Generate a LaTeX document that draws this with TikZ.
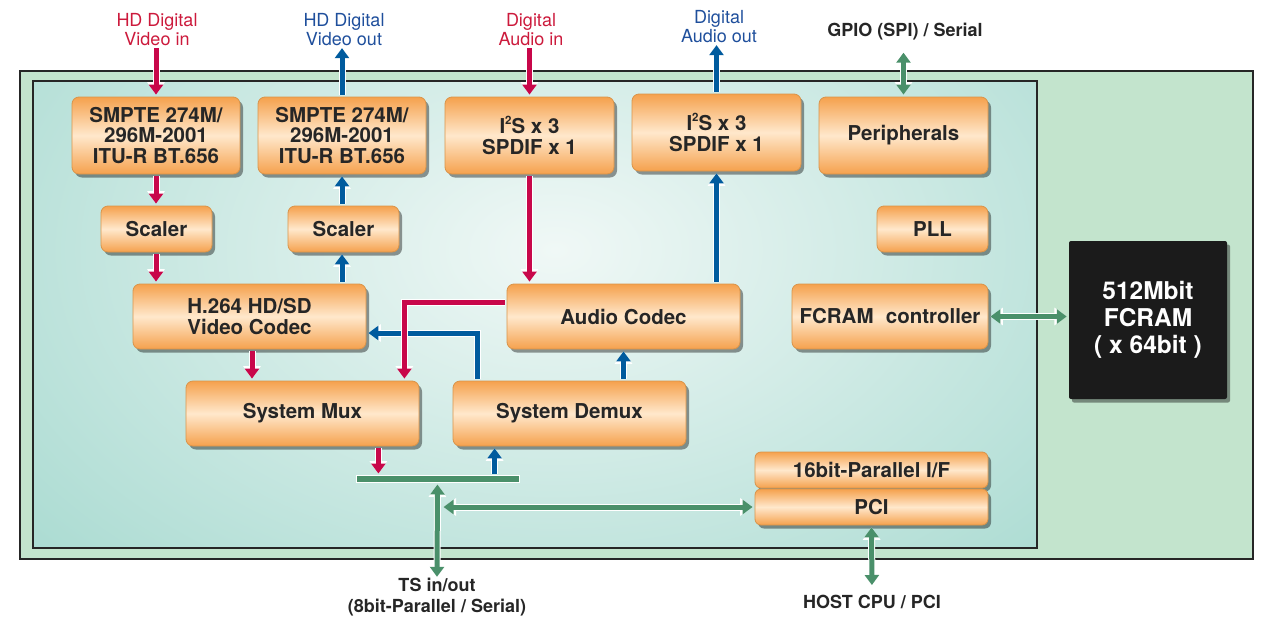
\documentclass[tikz,border=0pt]{standalone}
\usepackage{fontspec}
\setmainfont{TeX Gyre Heros}
\usetikzlibrary{arrows.meta,shadows,calc}
\definecolor{cred}{HTML}{C8074A}
\definecolor{credtext}{HTML}{CC1A3C}
\definecolor{cblue}{HTML}{005B9E}
\definecolor{cbluetext}{HTML}{1F4F9C}
\definecolor{cgreen}{HTML}{4A906A}
\definecolor{outerfill}{HTML}{C3E4CD}
\definecolor{tealedge}{HTML}{92D1C5}
\definecolor{tealcenter}{HTML}{F0F8F6}
\definecolor{ordark}{HTML}{F5A14D}
\definecolor{orlight}{HTML}{FFE8CC}
\definecolor{orborder}{HTML}{D9944A}
\definecolor{chipfill}{HTML}{1B1B1B}
\definecolor{framecol}{HTML}{262626}
\newcommand\mysup[1]{\raisebox{0.42em}{\fontsize{11.5}{11.5}\selectfont #1}}
\begin{document}
\begin{tikzpicture}[x=1pt,y=-1pt,
  blk/.style={rectangle, rounded corners=7pt, draw=orborder, line width=0.8pt,
    top color=ordark, bottom color=ordark, middle color=orlight,
    drop shadow={shadow xshift=3pt, shadow yshift=-3.5pt, fill=black, opacity=0.4},
    font=\fontsize{20.5}{20.5}\selectfont\bfseries, text=black!85, align=center, inner sep=0pt},
  toplab/.style={font=\fontsize{18}{19.5}\selectfont, align=center, inner sep=0pt},
  botlab/.style={font=\fontsize{18}{21}\selectfont\bfseries, text=black!85, align=center, inner sep=0pt},
  arr/.style={line width=5pt, -{Triangle[width=14pt,length=10pt]}, shorten <=2pt, shorten >=2pt,
    preaction={draw=white, line width=7pt, -{Triangle[width=17pt,length=12.5pt]}}},
  rarr/.style={arr, draw=cred},
  barr/.style={arr, draw=cblue},
  garr/.style={line width=5pt, draw=cgreen, {Triangle[width=14pt,length=10pt]}-{Triangle[width=14pt,length=10pt]}, shorten <=2pt, shorten >=2pt,
    preaction={draw=white, line width=7pt, {Triangle[width=17pt,length=12.5pt]}-{Triangle[width=17pt,length=12.5pt]}}}
]
\useasboundingbox (0,0) rectangle (1262,619);
% frames
\fill[outerfill] (20,71) rectangle (1253,559);
\draw[framecol, line width=2pt] (20,71) rectangle (1253,559);
\fill[tealedge] (33,81) rectangle (1037,548);
\begin{scope}
  \clip (33,81) rectangle (1037,548);
  \shade[inner color=tealcenter, outer color=tealedge] (555,250) ellipse (950 and 620);
\end{scope}
\draw[framecol, line width=2pt] (33,81) rectangle (1037,548);

% blocks
\node[blk, minimum width=168pt, minimum height=77pt] (smpte1) at (156,135.5) {SMPTE 274M/\\296M-2001\\ITU-R BT.656};
\node[blk, minimum width=168pt, minimum height=77pt] (smpte2) at (342,135.5) {SMPTE 274M/\\296M-2001\\ITU-R BT.656};
\node[blk, minimum width=169pt, minimum height=77pt] (i2s1) at (529.5,135.5) {I\mysup{2}S x 3\\SPDIF x 1};
\node[blk, minimum width=169pt, minimum height=77pt] (i2s2) at (716.5,132.5) {I\mysup{2}S x 3\\SPDIF x 1};
\node[blk, minimum width=169pt, minimum height=77pt] (periph) at (903.5,135.5) {Peripherals};
\node[blk, minimum width=111pt, minimum height=46pt] (scaler1) at (156.5,229) {Scaler};
\node[blk, minimum width=111pt, minimum height=46pt] (scaler2) at (343.5,229) {Scaler};
\node[blk, minimum width=111pt, minimum height=46pt] (pll) at (932.5,229) {PLL};
\node[blk, minimum width=233pt, minimum height=65pt] (h264) at (249.5,316.5) {H.264 HD/SD\\Video Codec};
\node[blk, minimum width=233pt, minimum height=65pt] (ac) at (623.5,316.5) {Audio Codec};
\node[blk, minimum width=196pt, minimum height=65pt] (fc) at (890,316.5) {FCRAM\hspace{0.6em}controller};
\node[blk, minimum width=233pt, minimum height=65pt] (mux) at (302.5,413.5) {System Mux};
\node[blk, minimum width=233pt, minimum height=65pt] (demux) at (569.5,413.5) {System Demux};
\node[blk, minimum width=233pt, minimum height=36pt, rounded corners=6pt] (pif) at (871.5,470) {16bit-Parallel I/F};
\node[blk, minimum width=233pt, minimum height=36pt, rounded corners=6pt] (pci) at (871.5,507) {PCI};
\node[fill=chipfill, rounded corners=2pt, minimum width=158pt, minimum height=158pt, inner sep=0pt,
  drop shadow={shadow xshift=3pt, shadow yshift=-3.5pt, fill=black, opacity=0.4},
  text=white, font=\fontsize{24.5}{27}\selectfont\bfseries, align=center] (chip) at (1148,320) {512Mbit\\FCRAM\\( x 64bit )};
\node[fill=cgreen, draw=white, line width=1pt, minimum width=163pt, minimum height=7pt, inner sep=0pt] (bus) at (437.5,478.5) {};

% outside labels
\node[toplab, text=credtext] (vin) at (157,29.5) {HD Digital\\Video in};
\node[toplab, text=cbluetext] (vout) at (344,29.5) {HD Digital\\Video out};
\node[toplab, text=credtext] (ain) at (531,29.5) {Digital\\Audio in};
\node[toplab, text=cbluetext] (aout) at (719,26.5) {Digital\\Audio out};
\node[botlab] (gpio) at (905,32) {GPIO (SPI) / Serial};
\node[botlab] (ts) at (437,597) {TS in/out\\(8bit-Parallel / Serial)};
\node[botlab] (host) at (872,602) {HOST CPU / PCI};

% video path
\draw[rarr] (smpte1.north |- vin.south) -- (smpte1.north);
\draw[barr] (smpte2.north) -- (smpte2.north |- vout.south);
\draw[rarr] (smpte1.south) -- (smpte1.south |- scaler1.north);
\draw[barr] (smpte2.south |- scaler2.north) -- (smpte2.south);
\draw[rarr] (smpte1.south |- scaler1.south) -- (smpte1.south |- h264.north);
\draw[barr] (smpte2.south |- h264.north) -- (smpte2.south |- scaler2.south);
% audio path
\draw[rarr] (i2s1.north |- ain.south) -- (i2s1.north);
\draw[barr] (i2s2.north) -- (i2s2.north |- aout.south);
\draw[rarr] (i2s1.south) -- (i2s1.south |- ac.north);
\draw[barr] (i2s2.south |- ac.north) -- (i2s2.south);
% gpio
\draw[garr, shorten <=12pt] (periph.north |- gpio.south) -- (periph.north);
% codec to mux / demux
\draw[rarr] ([xshift=2.5pt]h264.south) -- ([xshift=2.5pt]h264.south |- mux.north);
\draw[barr] ([xshift=25pt]demux.north west) |- ([yshift=-16.5pt]h264.east);
\draw[rarr] ([yshift=14.5pt]ac.west) -| ([xshift=-15pt]mux.north east);
\draw[barr] (demux.north -| ac.south) -- (ac.south);
% bus
\draw[rarr, shorten >=1pt] ([xshift=-41pt]mux.south east) -- ([xshift=-41pt]mux.south east |- bus.north);
\draw[barr, shorten <=1pt] ([xshift=42pt]demux.south west |- bus.north) -- ([xshift=42pt]demux.south west);
\draw[garr, shorten >=1pt] (bus.south) -- (ts.north);
\draw[garr] ([xshift=4pt]bus.south |- pci.west) -- (pci.west);
\draw[garr, shorten >=10pt] (pci.south) -- (host.north);
\draw[garr] (fc.east) -- (fc.east -| chip.west);
\end{tikzpicture}
\end{document}
